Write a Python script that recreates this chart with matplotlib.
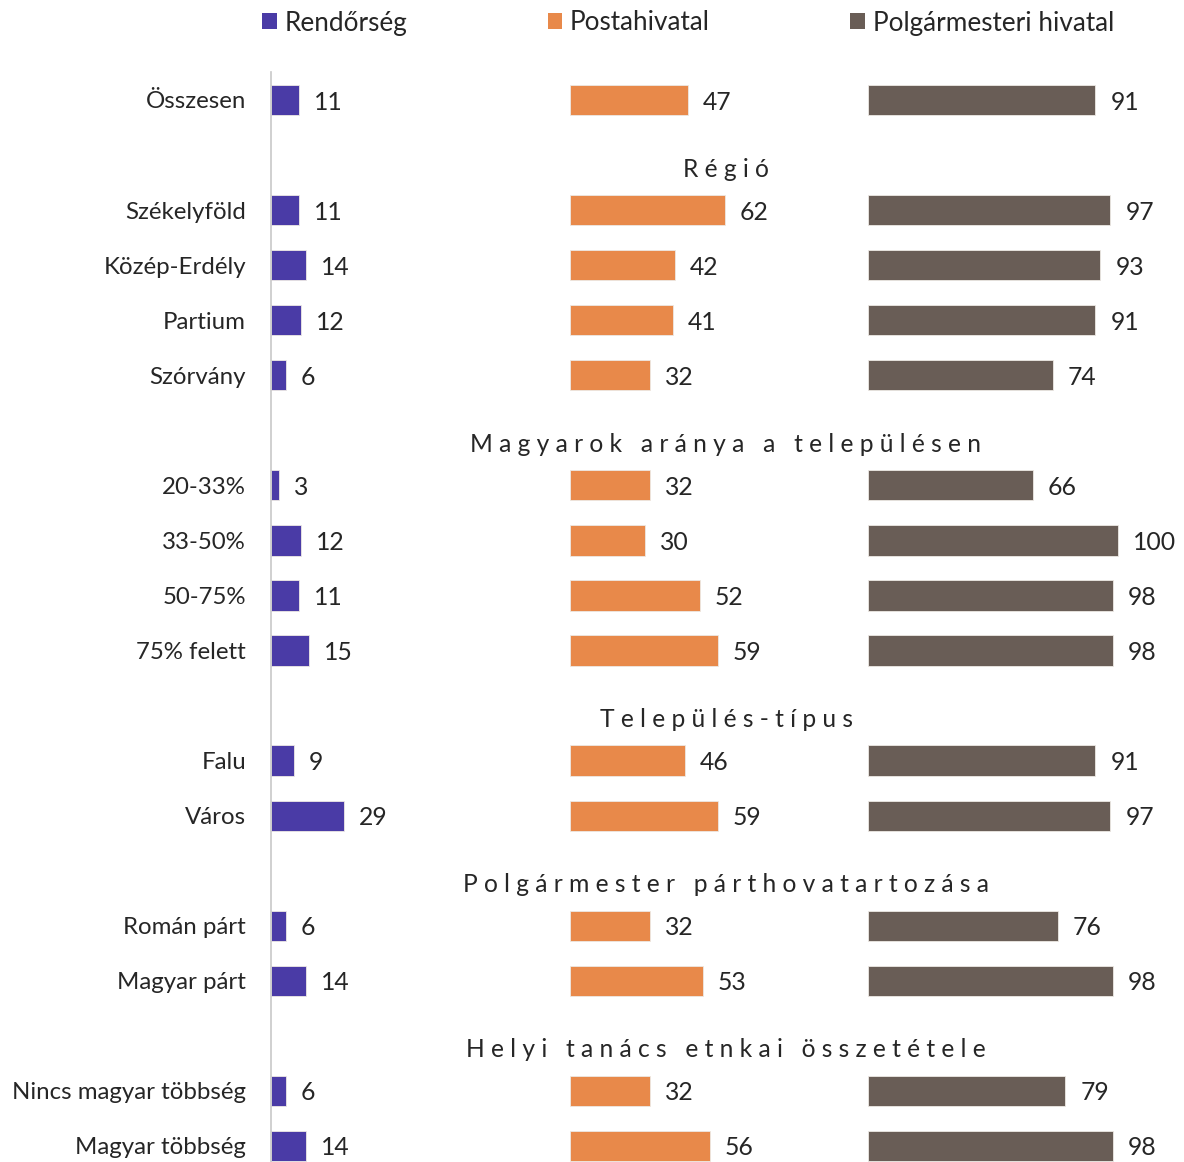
import matplotlib
matplotlib.use("Agg")
import matplotlib.pyplot as plt
from matplotlib.patches import Patch

plt.rcParams['font.family'] = ['Lato', 'DejaVu Sans']

# ---- data -------------------------------------------------------------
series_names = ["Rendőrség", "Postahivatal", "Polgármesteri hivatal"]
series_colors = ["#4A3BA6", "#E8894A", "#695D56"]

# row labels; None marks a section heading row
row_labels = [
    "Összesen",
    None,
    "Székelyföld", "Közép-Erdély", "Partium", "Szórvány",
    None,
    "20-33%", "33-50%", "50-75%", "75% felett",
    None,
    "Falu", "Város",
    None,
    "Román párt", "Magyar párt",
    None,
    "Nincs magyar többség", "Magyar többség",
]
section_titles = [
    "Régió",
    "Magyarok aránya a településen",
    "Település-típus",
    "Polgármester párthovatartozása",
    "Helyi tanács etnkai összetétele",
]

rendorseg = [11, 11, 14, 12, 6, 3, 12, 11, 15, 9, 29, 6, 14, 6, 14]
postahivatal = [47, 62, 42, 41, 32, 32, 30, 52, 59, 46, 59, 32, 53, 32, 56]
polgarmesteri = [91, 97, 93, 91, 74, 66, 100, 98, 98, 91, 97, 76, 98, 79, 98]

# ---- layout -------------------------------------------------------------
panel_offsets = [0, 119.6, 238.8]   # where each series' bars start on the shared axis
text_color = "#262626"
fs = 17.3
fs_num = 17.8
fs_legend = 18.8


def spaced(title):
    """Letter-spaced heading text."""
    return "   ".join(" ".join(word) for word in title.split(" "))


fig = plt.figure(figsize=(11.84, 11.62), dpi=100)
W, H = 1184, 1162
ax = fig.add_axes([271 / W, 0, (1180 - 271) / W, (1162 - 72) / H])

row_step = 55.05
ax.set_ylim((1162 - 100) / row_step, -(100 - 72) / row_step)
ax.set_xlim(0, (1180 - 271) / 2.5)

data_rows = [i for i, lab in enumerate(row_labels) if lab is not None]
head_rows = [i for i, lab in enumerate(row_labels) if lab is None]

for values, off, color in zip([rendorseg, postahivatal, polgarmesteri],
                              panel_offsets, series_colors):
    ax.barh(data_rows, values, left=off, height=0.55, color=color,
            edgecolor="#EDE9E4", linewidth=0.6)
    for r, v in zip(data_rows, values):
        ax.text(off + v + 6, r, str(v), va="center_baseline", ha="left",
                fontsize=fs_num, color=text_color)

for r, title in zip(head_rows, section_titles):
    ax.text(182, r + 0.22, spaced(title), ha="center", va="center_baseline",
            fontsize=fs + 0.4, color=text_color)

ax.set_yticks(data_rows)
ax.set_yticklabels([row_labels[i] for i in data_rows], fontsize=fs,
                   color=text_color, va="center_baseline")
ax.tick_params(axis="y", length=0, pad=18)
ax.set_xticks([])
for side in ["top", "right", "bottom"]:
    ax.spines[side].set_visible(False)
ax.spines["left"].set_color("#C8C8C8")
ax.spines["left"].set_linewidth(1.2)

handles = [Patch(facecolor=c, edgecolor="none") for c in series_colors]
fig.legend(handles, series_names, loc="center left",
           bbox_to_anchor=(252 / W, 1 - 23 / H), ncol=3, frameon=False,
           fontsize=fs_legend, handlelength=0.55, handleheight=0.55,
           handletextpad=0.3, columnspacing=5.38, borderaxespad=0,
           labelcolor=text_color)

fig.savefig("out.png", dpi=100)
